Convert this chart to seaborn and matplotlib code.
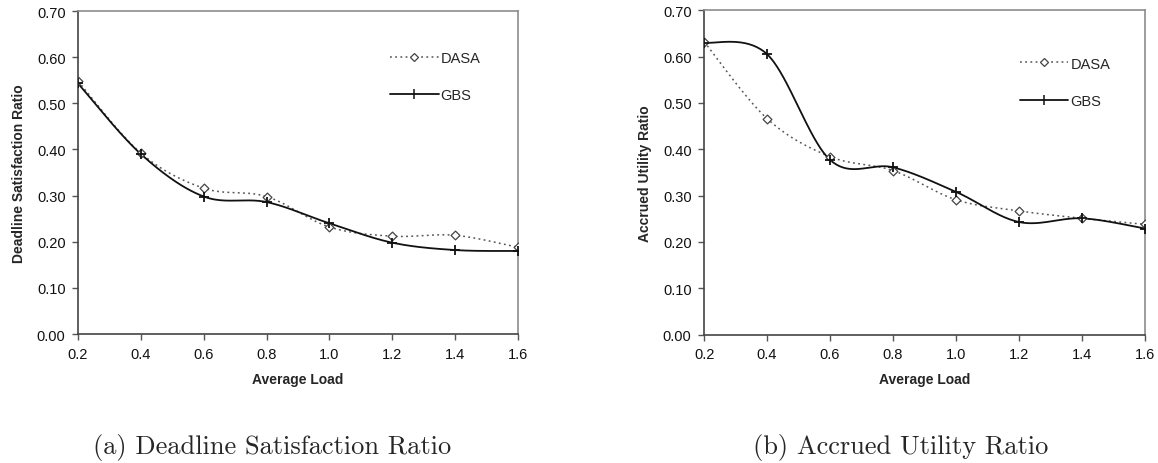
import numpy as np
import pandas as pd
import seaborn as sns
import matplotlib
matplotlib.use("Agg")
import matplotlib.pyplot as plt
from matplotlib.lines import Line2D

# ---- data ----
load = [0.2, 0.4, 0.6, 0.8, 1.0, 1.2, 1.4, 1.6]
dsr_dasa = [0.548, 0.392, 0.316, 0.298, 0.232, 0.212, 0.214, 0.188]
dsr_gbs = [0.543, 0.390, 0.298, 0.286, 0.240, 0.198, 0.182, 0.180]
aur_dasa = [0.632, 0.466, 0.384, 0.354, 0.291, 0.267, 0.251, 0.238]
aur_gbs = [0.630, 0.605, 0.377, 0.361, 0.308, 0.243, 0.251, 0.229]
xticks = [0.2, 0.4, 0.6, 0.8, 1.0, 1.2, 1.4, 1.6]
yticks = [0.0, 0.1, 0.2, 0.3, 0.4, 0.5, 0.6, 0.7]
series_names = ["DASA", "GBS"]
captions = ["(a) Deadline Satisfaction Ratio", "(b) Accrued Utility Ratio"]
ylabels = ["Deadline Satisfaction Ratio", "Accrued Utility Ratio"]
xlabel = "Average Load"


def smooth(x, y, n=40):
    """Excel-like smoothed line (Catmull-Rom Bezier) through data points."""
    x = np.asarray(x, float)
    y = np.asarray(y, float)
    P = np.column_stack([x, y])
    out = []
    m = len(P)
    t = np.linspace(0, 1, n)
    for i in range(m - 1):
        p0 = P[i - 1] if i > 0 else P[i]
        p1 = P[i]
        p2 = P[i + 1]
        p3 = P[i + 2] if i + 2 < m else P[i + 1]
        c1 = p1 + (p2 - p0) / 6.0
        c2 = p2 - (p3 - p1) / 6.0
        seg = ((1 - t) ** 3)[:, None] * p1 + (3 * (1 - t) ** 2 * t)[:, None] * c1 \
            + (3 * (1 - t) * t ** 2)[:, None] * c2 + (t ** 3)[:, None] * p2
        out.append(seg if i == 0 else seg[1:])
    S = np.vstack(out)
    return S[:, 0], S[:, 1]


sns.set_style("white")
plt.rcParams["font.family"] = ["Liberation Sans", "DejaVu Sans"]

fig = plt.figure(figsize=(11.58, 4.64), dpi=100)
ax1 = fig.add_axes([0.0674, 0.278, 0.3798, 0.696])
ax2 = fig.add_axes([0.608, 0.2765, 0.3808, 0.6995])

dasa_style = dict(color="#555555", lw=1.1, linestyle=(0, (1.2, 2.2)))
gbs_style = dict(color="#111111", lw=1.3, linestyle="-")

panels = [(ax1, dsr_dasa, dsr_gbs), (ax2, aur_dasa, aur_gbs)]
legend_pos = [(0.697, 0.895), (0.704, 0.875)]

for k, (ax, dasa, gbs) in enumerate(panels):
    sx, sy = smooth(load, dasa)
    sns.lineplot(x=sx, y=sy, ax=ax, sort=False, estimator=None, **dasa_style)
    gx, gy = smooth(load, gbs)
    sns.lineplot(x=gx, y=gy, ax=ax, sort=False, estimator=None, **gbs_style)
    sns.scatterplot(x=load, y=dasa, ax=ax, marker="D", s=20, facecolor="white",
                    edgecolor="#444444", linewidth=0.9, zorder=5)
    sns.scatterplot(x=load, y=gbs, ax=ax, marker="+", s=48, color="#111111",
                    linewidth=1.3, zorder=6)

    ax.set_xlim(0.2, 1.6)
    ax.set_ylim(0.0, 0.7)
    ax.set_xticks(xticks)
    ax.set_xticklabels([f"{v:.1f}" for v in xticks])
    ax.set_yticks(yticks)
    ax.set_yticklabels([f"{v:.2f}" for v in yticks])
    ax.tick_params(axis="both", labelsize=10.5, length=4, width=1, color="#555555",
                   direction="out", bottom=True, left=True, pad=5, labelcolor="#111111")
    ax.set_xlabel(xlabel, fontsize=10, fontweight="bold", labelpad=8)
    ax.set_ylabel(ylabels[k], fontsize=10, fontweight="bold", labelpad=8)
    for side in ["left", "bottom"]:
        ax.spines[side].set_color("#444444")
        ax.spines[side].set_linewidth(1.2)
    for side in ["top", "right"]:
        ax.spines[side].set_color("#8c8c8c")
        ax.spines[side].set_linewidth(1.2)
    ax.grid(False)

    handles = [
        Line2D([], [], marker="D", markersize=4.2, markerfacecolor="white",
               markeredgecolor="#444444", markeredgewidth=0.9, **dasa_style),
        Line2D([], [], marker="|", markersize=7, markeredgewidth=1.1, **gbs_style),
    ]
    ax.legend(handles, series_names, loc="upper left", bbox_to_anchor=legend_pos[k],
              frameon=False, fontsize=10.5, handlelength=3.3, handletextpad=0.15,
              labelspacing=1.6, borderaxespad=0)

    cx = [0.235, 0.778][k]
    fig.text(cx, 0.022, captions[k], ha="center", va="baseline", fontsize=19,
             family="cmr10")

fig.savefig("out.png", dpi=100)
